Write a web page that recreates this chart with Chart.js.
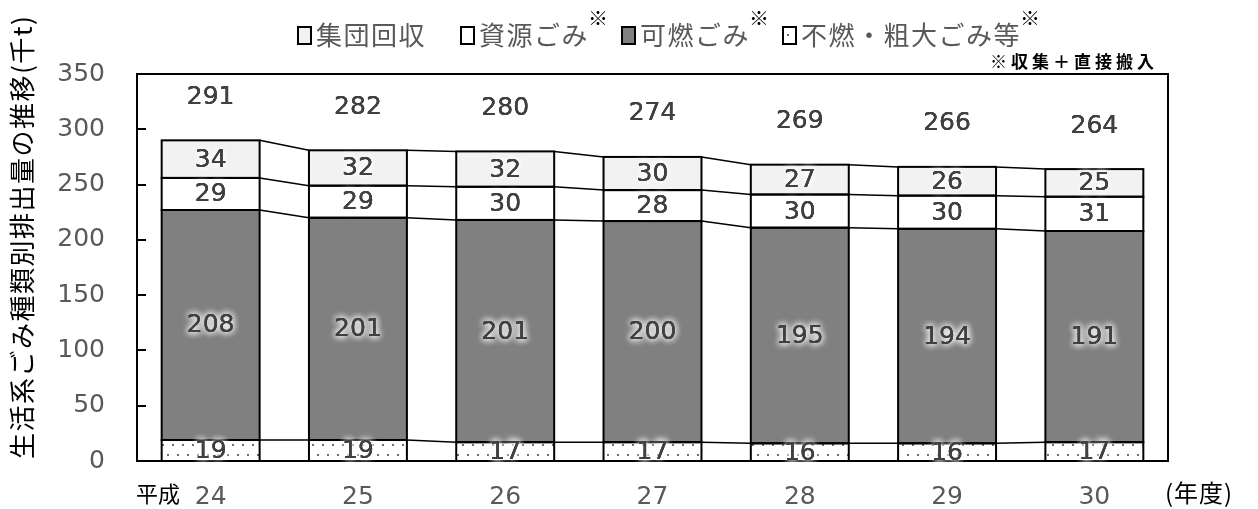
<!DOCTYPE html>
<html lang="ja">
<head>
<meta charset="utf-8">
<title>生活系ごみ種類別排出量の推移</title>
<script src="https://cdn.jsdelivr.net/npm/chart.js@4.4.0/dist/chart.umd.min.js"></script>
<style>
  html, body { margin: 0; padding: 0; background: #fff; }
  canvas { display: block; }
</style>
</head>
<body>
<canvas id="garbageChart" width="1258" height="509"></canvas>
<script>
const years = ['24', '25', '26', '27', '28', '29', '30'];
const funen = [19, 19, 17, 17, 16, 16, 17];         // 不燃・粗大ごみ等
const kanen = [208, 201, 201, 200, 195, 194, 191];  // 可燃ごみ
const shigen = [29, 29, 30, 28, 30, 30, 31];        // 資源ごみ
const shudan = [34, 32, 32, 30, 27, 26, 25];        // 集団回収
const totals = [291, 282, 280, 274, 269, 266, 264];
const yMax = 350;
const yStep = 50;

const NUM_FONT = '"DejaVu Sans", "Noto Sans CJK JP", sans-serif';
const JP_FONT = '"Noto Sans CJK JP", sans-serif';

const canvas = document.getElementById('garbageChart');
const ctx = canvas.getContext('2d');

// white tile with gray dots for 不燃・粗大ごみ等
function dotPattern() {
  const c = document.createElement('canvas');
  c.width = 10;
  c.height = 20;
  const g = c.getContext('2d');
  g.fillStyle = '#fff';
  g.fillRect(0, 0, 10, 20);
  g.fillStyle = '#6e6e6e';
  g.fillRect(2, 4, 2, 2);
  g.fillRect(7, 14, 2, 2);
  return ctx.createPattern(c, 'repeat');
}
const dots = dotPattern();

function glowText(c, text, x, y) {
  c.save();
  c.shadowColor = '#fff';
  c.shadowBlur = 7;
  c.fillStyle = '#404040';
  for (let i = 0; i < 3; i++) c.fillText(text, x, y);
  c.restore();
  c.fillStyle = '#404040';
  c.fillText(text, x, y);
}

// bar outlines, the lines joining neighbouring bars, plot frame
const framePlugin = {
  id: 'framePlugin',
  afterDatasetsDraw(chart) {
    const c = chart.ctx;
    const area = chart.chartArea;
    c.save();
    c.strokeStyle = '#000';
    chart.data.datasets.forEach((ds, di) => {
      const els = chart.getDatasetMeta(di).data;
      c.lineWidth = 1.5;
      for (let i = 0; i < els.length - 1; i++) {
        const a = els[i], b = els[i + 1];
        c.beginPath();
        c.moveTo(a.x + a.width / 2, a.y);
        c.lineTo(b.x - b.width / 2, b.y);
        c.stroke();
      }
      c.lineWidth = 2;
      els.forEach(el => {
        c.strokeRect(el.x - el.width / 2, el.y, el.width, el.base - el.y);
      });
    });
    c.lineWidth = 2;
    c.strokeRect(area.left, area.top, area.right - area.left, area.bottom - area.top);
    const yScale = chart.scales.y;
    for (let v = yStep; v < yMax; v += yStep) {
      const py = Math.round(yScale.getPixelForValue(v));
      c.beginPath();
      c.moveTo(area.left, py);
      c.lineTo(area.left + 9, py);
      c.stroke();
    }
    c.restore();
  }
};

// value labels in each segment and the totals above the bars
const labelPlugin = {
  id: 'labelPlugin',
  afterDraw(chart) {
    const c = chart.ctx;
    c.save();
    c.font = '25px ' + NUM_FONT;
    c.textAlign = 'center';
    c.textBaseline = 'middle';
    chart.data.datasets.forEach((ds, di) => {
      chart.getDatasetMeta(di).data.forEach((el, i) => {
        glowText(c, String(ds.data[i]), el.x, (el.y + el.base) / 2 + 1);
      });
    });
    const top = chart.getDatasetMeta(chart.data.datasets.length - 1).data;
    top.forEach((el, i) => {
      glowText(c, String(totals[i]), el.x, el.y - 43);
    });
    c.restore();
  }
};

// legend, notes and axis captions
const textPlugin = {
  id: 'textPlugin',
  afterDraw(chart) {
    const c = chart.ctx;
    c.save();

    // legend, top of stack first
    let x = 298;
    const sets = chart.data.datasets.slice().reverse();
    c.textBaseline = 'middle';
    c.textAlign = 'left';
    sets.forEach(ds => {
      c.fillStyle = ds.backgroundColor;
      c.fillRect(x, 27, 13, 17);
      c.strokeStyle = '#000';
      c.lineWidth = 2;
      c.strokeRect(x, 27, 13, 17);
      x += 18;
      const mark = ds.label.endsWith('※');
      const name = mark ? ds.label.slice(0, -1) : ds.label;
      c.font = '26px ' + JP_FONT;
      c.letterSpacing = '1.5px';
      c.fillStyle = '#595959';
      c.fillText(name, x, 35);
      x += c.measureText(name).width;
      c.letterSpacing = '0px';
      if (mark) {
        c.font = '20px ' + JP_FONT;
        c.fillStyle = '#000';
        c.fillText('※', x - 1, 18);
        x += 33;
      } else {
        x += 35;
      }
    });

    // note under legend
    c.font = 'bold 17px ' + JP_FONT;
    c.letterSpacing = '4px';
    c.fillStyle = '#000';
    c.textAlign = 'left';
    c.fillText('※収集＋直接搬入', 990, 62);

    // y axis caption
    c.save();
    c.translate(22, 459);
    c.rotate(-Math.PI / 2);
    c.font = '26px ' + JP_FONT;
    c.letterSpacing = '1.5px';
    c.fillStyle = '#000';
    c.fillText('生活系ごみ種類別排出量の推移(千t)', 0, 0);
    c.restore();

    c.letterSpacing = '0px';
    c.font = '22px ' + JP_FONT;
    c.fillStyle = '#000';
    c.fillText('平成', 136, 494);
    c.letterSpacing = '1px';
    c.font = '24px ' + JP_FONT;
    c.fillText('(年度)', 1165, 493);
    c.restore();
  }
};

new Chart(ctx, {
  type: 'bar',
  data: {
    labels: years,
    datasets: [
      { label: '不燃・粗大ごみ等※', data: funen, backgroundColor: dots },
      { label: '可燃ごみ※', data: kanen, backgroundColor: '#808080' },
      { label: '資源ごみ※', data: shigen, backgroundColor: '#ffffff' },
      { label: '集団回収', data: shudan, backgroundColor: '#f2f2f2' }
    ]
  },
  options: {
    responsive: false,
    animation: false,
    devicePixelRatio: 1,
    layout: { padding: { left: 0, right: 90, top: 74, bottom: 0 } },
    datasets: {
      bar: { barPercentage: 0.665, categoryPercentage: 1, borderWidth: 0 }
    },
    plugins: {
      legend: { display: false },
      tooltip: { enabled: false }
    },
    scales: {
      x: {
        stacked: true,
        grid: { display: false },
        border: { display: false },
        ticks: { color: '#595959', font: { size: 25, family: NUM_FONT }, padding: 13 },
        afterFit: s => { s.height = 48; }
      },
      y: {
        stacked: true,
        min: 0,
        max: yMax,
        grid: { display: false, drawTicks: false },
        border: { display: false },
        ticks: { stepSize: yStep, color: '#595959', font: { size: 25, family: NUM_FONT }, padding: 32 },
        afterFit: s => { s.width = 137; }
      }
    }
  },
  plugins: [framePlugin, labelPlugin, textPlugin]
});
</script>
</body>
</html>
